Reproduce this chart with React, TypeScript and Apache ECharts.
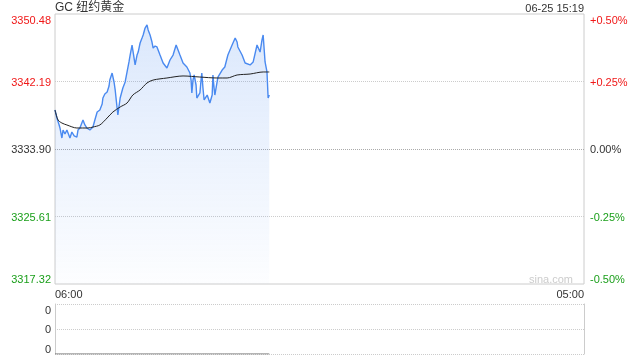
import React, { useEffect, useRef } from "react";
import * as echarts from "echarts";

// minutes after 06:00 and last price
const priceMinutes = [0, 5, 10, 13, 18, 21, 26, 31, 39, 44, 50, 57, 60, 65, 73, 78, 83, 91, 99, 104, 110, 117, 123, 125, 130, 136, 141, 143, 149, 154, 157, 162, 164, 170, 177, 183, 188, 193, 196, 201, 209, 214, 217, 222, 227, 230, 235, 240, 243, 248, 253, 256, 261, 266, 274, 279, 282, 292, 300, 308, 316, 321, 326, 334, 344, 352, 355, 357, 360, 363, 368, 370, 378, 381, 383, 386, 389, 397, 404, 410, 412, 415, 417, 425, 436, 443, 451, 462, 470, 475, 477, 488, 496, 509, 517, 527, 535, 540, 543, 548, 553, 556, 559];
const prices = [3338.69, 3337.71, 3336.97, 3336.48, 3335.25, 3336.23, 3335.74, 3336.23, 3335.25, 3335.99, 3335.5, 3335.37, 3336.23, 3336.48, 3337.46, 3336.85, 3336.48, 3336.23, 3336.6, 3337.46, 3338.44, 3338.69, 3339.43, 3340.16, 3340.66, 3340.9, 3341.64, 3342.37, 3343.23, 3342.13, 3341.15, 3338.94, 3338.08, 3340.16, 3341.39, 3342.13, 3343.36, 3344.59, 3345.44, 3346.67, 3344.22, 3345.44, 3345.81, 3346.92, 3347.53, 3347.9, 3348.76, 3349.13, 3348.52, 3347.9, 3347.04, 3346.3, 3346.55, 3346.43, 3345.44, 3344.83, 3344.46, 3343.85, 3344.83, 3345.44, 3346.67, 3346.06, 3345.44, 3344.46, 3343.97, 3343.23, 3342.37, 3340.78, 3342.37, 3342.99, 3341.76, 3340.16, 3340.78, 3342.37, 3343.23, 3341.39, 3339.92, 3340.53, 3339.55, 3340.53, 3342.99, 3341.39, 3340.53, 3342.74, 3343.6, 3343.97, 3345.44, 3346.67, 3347.53, 3347.04, 3346.43, 3345.44, 3344.46, 3344.22, 3344.59, 3346.67, 3345.81, 3347.29, 3347.9, 3344.59, 3343.36, 3340.16, 3340.53];

// average price line
const avgMinutes = [0, 8, 18, 31, 57, 86, 99, 117, 136, 151, 170, 188, 203, 222, 240, 256, 292, 334, 378, 423, 449, 475, 509, 543, 559];
const avgPrices = [3338.69, 3337.46, 3337.09, 3336.85, 3336.48, 3336.48, 3336.6, 3336.85, 3337.71, 3338.44, 3339.06, 3339.55, 3340.53, 3341.15, 3342.01, 3342.37, 3342.62, 3342.87, 3342.74, 3342.62, 3342.62, 3342.99, 3343.11, 3343.36, 3343.36];

// volume (all zero)
const volumes = priceMinutes.map(() => 0);

const prevClose = 3333.9;
const priceStep = 8.29;
const sessionStart = "06:00";
const sessionEnd = "05:00";
const sessionLength = 1380;
const titleText = "GC 纽约黄金";
const timeText = "06-25 15:19";

const RED = "#f01818";
const GREEN = "#1a9f1a";
const DARK = "#333333";
const FONT = "'Liberation Sans', Arial, 'Noto Sans CJK SC', sans-serif";

export default function App() {
  const ref = useRef<HTMLDivElement>(null);
  useEffect(() => {
    if (!ref.current) return;
    const chart = echarts.init(ref.current, undefined, { renderer: "svg" });
    const yMin = prevClose - 2 * priceStep;
    const yMax = prevClose + 2 * priceStep;
    const eps = 0.001;
    const colorFor = (v: any) => {
      const n = Number(v);
      if (n > prevClose + eps) return RED;
      if (n < prevClose - eps) return GREEN;
      return DARK;
    };
    const pct = (v: number) => {
      const p = ((v - prevClose) / prevClose) * 100;
      if (Math.abs(p) < 0.0005) return "0.00%";
      return (p > 0 ? "+" : "") + p.toFixed(2) + "%";
    };
    chart.setOption({
      animation: false,
      textStyle: { fontFamily: FONT },
      title: [
        {
          text: titleText,
          left: 55,
          top: 1,
          padding: 0,
          textStyle: { fontSize: 12, fontWeight: "normal", color: DARK, fontFamily: FONT },
        },
        {
          text: timeText,
          right: 56,
          top: 2,
          padding: 0,
          textStyle: { fontSize: 11, fontWeight: "normal", color: DARK, fontFamily: FONT },
        },
      ],
      graphic: [
        {
          type: "text",
          right: 67,
          top: 273,
          style: { text: "sina.com", fill: "#cccccc", fontSize: 11, fontFamily: FONT },
        },
      ],
      grid: [
        { left: 55, right: 56, top: 14, height: 270, show: true, borderColor: "#cccccc", borderWidth: 1 },
        { left: 55, right: 56, top: 304, height: 50, show: false },
      ],
      xAxis: [
        {
          type: "value",
          gridIndex: 0,
          min: 0,
          max: sessionLength,
          interval: sessionLength,
          axisLine: { show: false },
          axisTick: { show: false },
          splitLine: { show: false },
          axisLabel: {
            margin: 4,
            fontSize: 11,
            color: DARK,
            alignMinLabel: "left",
            alignMaxLabel: "right",
            formatter: (v: number) => (v <= 0 ? sessionStart : sessionEnd),
          },
        },
        {
          type: "value",
          gridIndex: 1,
          min: 0,
          max: sessionLength,
          interval: sessionLength,
          axisLine: { show: false },
          axisTick: { show: false },
          splitLine: { show: false },
          axisLabel: { show: false },
        },
      ],
      yAxis: [
        {
          type: "value",
          gridIndex: 0,
          position: "left",
          min: yMin,
          max: yMax,
          interval: priceStep,
          axisLine: { show: false },
          axisTick: { show: false },
          splitLine: {
            show: true,
            lineStyle: {
              type: "dotted",
              color: ["transparent", "#cccccc", "#aaaaaa", "#cccccc", "transparent"],
            },
          },
          axisLabel: {
            margin: 4,
            fontSize: 11,
            color: colorFor,
            verticalAlignMinLabel: "bottom",
            verticalAlignMaxLabel: "top",
            formatter: (v: number) => v.toFixed(2),
          },
        },
        {
          type: "value",
          gridIndex: 0,
          position: "right",
          min: yMin,
          max: yMax,
          interval: priceStep,
          axisLine: { show: false },
          axisTick: { show: false },
          splitLine: { show: false },
          axisLabel: {
            margin: 6,
            fontSize: 11,
            color: colorFor,
            verticalAlignMinLabel: "bottom",
            verticalAlignMaxLabel: "top",
            formatter: (v: number) => pct(v),
          },
        },
        {
          type: "value",
          gridIndex: 1,
          position: "left",
          min: 0,
          max: 2,
          interval: 1,
          axisLine: { show: true, lineStyle: { color: "#cccccc" } },
          axisTick: { show: false },
          splitLine: { show: true, lineStyle: { type: "dotted", color: "#cccccc" } },
          axisLabel: {
            margin: 4,
            fontSize: 11,
            color: DARK,
            verticalAlignMinLabel: "bottom",
            verticalAlignMaxLabel: "top",
            formatter: () => String(Math.max(...volumes)),
          },
        },
        {
          type: "value",
          gridIndex: 1,
          position: "right",
          min: 0,
          max: 2,
          interval: 1,
          axisLine: { show: true, lineStyle: { color: "#cccccc" } },
          axisTick: { show: false },
          splitLine: { show: false },
          axisLabel: { show: false },
        },
      ],
      series: [
        {
          type: "line",
          name: "price",
          xAxisIndex: 0,
          yAxisIndex: 0,
          data: priceMinutes.map((m, i) => [m, prices[i]]),
          showSymbol: false,
          lineStyle: { color: "#4a8af0", width: 1.4 },
          itemStyle: { color: "#4a8af0" },
          areaStyle: {
            origin: "start",
            color: new echarts.graphic.LinearGradient(0, 0, 0, 1, [
              { offset: 0, color: "rgba(74,138,240,0.28)" },
              { offset: 1, color: "rgba(74,138,240,0.02)" },
            ]),
          },
          z: 2,
        },
        {
          type: "line",
          name: "avg",
          xAxisIndex: 0,
          yAxisIndex: 0,
          data: avgMinutes.map((m, i) => [m, avgPrices[i]]),
          showSymbol: false,
          smooth: 0.3,
          lineStyle: { color: "#222222", width: 1 },
          itemStyle: { color: "#222222" },
          z: 3,
        },
        {
          type: "line",
          name: "volume",
          xAxisIndex: 1,
          yAxisIndex: 2,
          data: priceMinutes.map((m, i) => [m, volumes[i]]),
          showSymbol: false,
          lineStyle: { color: "#666666", width: 1 },
          itemStyle: { color: "#666666" },
          z: 3,
        },
      ],
    });
    return () => chart.dispose();
  }, []);
  return <div ref={ref} style={{ width: 640, height: 360, position: "fixed", left: 0, top: 0 }} />;
}
